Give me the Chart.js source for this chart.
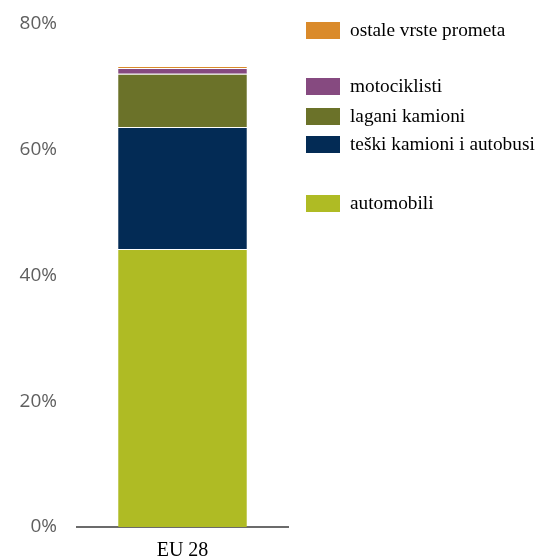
<!DOCTYPE html>
<html>
<head>
<meta charset="utf-8">
<script src="https://cdn.jsdelivr.net/npm/chart.js@4.4.1/dist/chart.umd.min.js"></script>
<style>
	html, body { margin: 0; padding: 0; background: #fff; }
	#wrap { position: relative; width: 537px; height: 560px; }
	#legend { position: absolute; left: 306px; top: 0; font-family: "Liberation Serif", serif; font-size: 19.3px; color: #000; }
	#legend .item { position: absolute; left: 0; white-space: nowrap; }
	#legend .box { position: absolute; left: 0; width: 34px; height: 17px; }
	#legend .txt { position: absolute; left: 44px; top: -3px; }
</style>
</head>
<body>
<div id="wrap">
	<canvas id="traffic-chart" width="537" height="560"></canvas>
	<div id="legend"></div>
</div>
<script>
var categories = ['EU 28'];
var seriesNames = ['automobili', 'teški kamioni i autobusi', 'lagani kamioni', 'motociklisti', 'ostale vrste prometa'];
var automobili = [44.2];
var teskiKamioni = [19.4];
var laganiKamioni = [8.5];
var motociklisti = [0.9];
var ostale = [0.3];
var seriesColors = ['#AFBB24', '#032B55', '#6B7229', '#864A80', '#DA8A2A'];
var yTicks = [0, 20, 40, 60, 80];

// legend rows in the reference are not evenly spaced (top of each box)
var legendTops = [195, 136, 108, 78, 22];

var seriesData = [automobili, teskiKamioni, laganiKamioni, motociklisti, ostale];

var chart = new Chart('traffic-chart', {
	type: 'bar',
	data: {
		labels: categories,
		datasets: seriesNames.map(function (name, i) {
			return {
				label: name,
				data: seriesData[i],
				backgroundColor: seriesColors[i],
				borderColor: '#fff',
				borderWidth: { top: 1, left: 0, right: 0, bottom: 0 },
				borderSkipped: false,
				barPercentage: 0.61,
				categoryPercentage: 1
			}
		})
	},
	options: {
		responsive: false,
		animation: false,
		layout: { padding: { top: 24, right: 249, bottom: 0, left: 0 } },
		plugins: {
			legend: { display: false },
			tooltip: { enabled: false }
		},
		scales: {
			x: {
				stacked: true,
				afterFit: function (scale) { scale.height = 33; },
				grid: { display: false, drawTicks: false },
				border: { display: true, color: '#6b6b6b', width: 2 },
				ticks: {
					padding: 12,
					color: '#000',
					font: { family: 'Liberation Serif', size: 20 }
				}
			},
			y: {
				stacked: true,
				min: 0,
				max: 80,
				afterFit: function (scale) {
					scale.width = 77;
					scale.paddingTop = 0;
					scale.paddingBottom = 0;
				},
				afterBuildTicks: function (scale) {
					scale.ticks = yTicks.map(function (v) { return { value: v }; });
				},
				grid: { display: false, drawTicks: false },
				border: { display: false },
				ticks: {
					padding: 20,
					color: '#5f5f5f',
					font: { family: 'Open Sans', size: 19 },
					callback: function (v) { return v + '%'; }
				}
			}
		}
	}
});

var legendEl = document.getElementById('legend');
chart.data.datasets.forEach(function (ds, i) {
	var item = document.createElement('div');
	item.className = 'item';
	item.style.top = legendTops[i] + 'px';
	item.innerHTML = '<div class="box" style="background:' + ds.backgroundColor + '"></div>' +
		'<div class="txt">' + ds.label + '</div>';
	legendEl.appendChild(item);
});
</script>
</body>
</html>
